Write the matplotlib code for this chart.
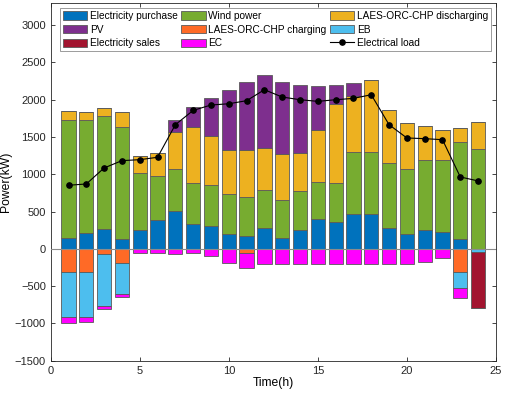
import numpy as np
import matplotlib
matplotlib.use("Agg")
import matplotlib.pyplot as plt
from matplotlib.patches import Patch
from matplotlib.lines import Line2D

plt.rcParams['font.family'] = ['Liberation Sans', 'DejaVu Sans']

hours = np.arange(1, 25)
purchase = [152, 210, 272, 134, 259, 393, 504, 339, 308, 205, 179, 277,
            152, 259, 397, 366, 473, 469, 277, 205, 259, 232, 138, 0]
wind_top = [1732, 1723, 1777, 1634, 1022, 978, 1067, 888, 853, 737, 701, 795,
            661, 772, 902, 888, 1295, 1304, 1147, 1076, 1188, 1188, 1433, 1344]
dis_top = [1848, 1839, 1893, 1830, 1250, 1286, 1567, 1634, 1509, 1326, 1326, 1353,
           1272, 1286, 1598, 1938, 2045, 2268, 1862, 1688, 1647, 1594, 1621, 1696]
pv_top = [1848, 1839, 1893, 1830, 1250, 1286, 1728, 1902, 2018, 2125, 2241, 2330,
          2232, 2201, 2178, 2201, 2219, 2268, 1862, 1688, 1647, 1594, 1621, 1696]
charging = [304, 304, 71, 188, 0, 0, 0, 0, 0, 0, 58, 0,
            0, 0, 0, 0, 0, 0, 0, 0, 0, 0, 304, 0]
eb = [616, 616, 701, 415, 0, 0, 0, 0, 0, 0, 0, 0,
      0, 0, 0, 0, 0, 0, 0, 0, 0, 0, 227, 45]
sales = [0]*23 + [750]
ec = [71, 58, 41, 49, 58, 62, 67, 54, 94, 188, 201, 201,
      201, 201, 201, 201, 201, 201, 201, 201, 179, 129, 134, 0]
load = [853, 870, 1085, 1183, 1196, 1228, 1665, 1857, 1929, 1946, 1987, 2134,
        2036, 2000, 1978, 2000, 2018, 2067, 1665, 1487, 1478, 1464, 964, 911]

purchase = np.array(purchase, float)
wind = np.array(wind_top, float) - purchase
dis = np.array(dis_top, float) - np.array(wind_top, float)
pv = np.array(pv_top, float) - np.array(dis_top, float)

pos_series = [("Electricity purchase", purchase, "#0072BD"),
              ("Wind power", wind, "#77AC30"),
              ("LAES-ORC-CHP discharging", dis, "#EDB120"),
              ("PV", pv, "#7E2F8E")]
neg_series = [("LAES-ORC-CHP charging", np.array(charging, float), "#FF6A26"),
              ("EB", np.array(eb, float), "#4DBEEE"),
              ("Electricity sales", np.array(sales, float), "#A2142F"),
              ("EC", np.array(ec, float), "#FF00FF")]

fig = plt.figure(figsize=(5.05, 3.99), dpi=100)
ax = fig.add_axes([0.1004, 0.096, 0.8816, 0.897])

ec_col = "#5a5a5a"
handles = {}
bottom = np.zeros(24)
for name, vals, col in pos_series:
    ax.bar(hours, vals, 0.8, bottom=bottom, color=col, edgecolor=ec_col, linewidth=0.6)
    bottom = bottom + vals
    handles[name] = Patch(facecolor=col, edgecolor=ec_col, linewidth=0.6)
bottom = np.zeros(24)
for name, vals, col in neg_series:
    ax.bar(hours, -vals, 0.8, bottom=bottom, color=col, edgecolor=ec_col, linewidth=0.6)
    bottom = bottom - vals
    handles[name] = Patch(facecolor=col, edgecolor=ec_col, linewidth=0.6)

ax.axhline(0, color="#8c8c8c", linewidth=0.8, zorder=3)
ax.plot(hours, load, color="black", linewidth=0.8, marker="o", markersize=3.8, zorder=4)
handles["Electrical load"] = Line2D([], [], color="black", linewidth=0.8, marker="o", markersize=3.8)

ax.set_xlim(0, 25)
ax.set_ylim(-1500, 3300)
ax.set_xticks([0, 5, 10, 15, 20, 25])
ax.set_yticks(np.arange(-1500, 3001, 500))
ax.tick_params(direction="in", labelsize=8, length=3, width=0.6, colors="#262626",
               top=True, right=True)
for sp in ax.spines.values():
    sp.set_color("#262626")
    sp.set_linewidth(0.6)
ax.set_xlabel("Time(h)", fontsize=8.7, labelpad=1)
ax.set_ylabel("Power(kW)", fontsize=8.7, labelpad=2)

order = ["Electricity purchase", "PV", "Electricity sales",
         "Wind power", "LAES-ORC-CHP charging", "EC",
         "LAES-ORC-CHP discharging", "EB", "Electrical load"]
axh = 358.0
leg = ax.legend([handles[k] for k in order], order, ncol=3, fontsize=7.3,
                loc="upper left", mode="expand",
                bbox_to_anchor=(0.021, 0.985 - 41 / axh, 0.968, 41 / axh),
                borderaxespad=0, handlelength=2.4, handleheight=0.9,
                handletextpad=0.25, columnspacing=0.5, labelspacing=0.35,
                borderpad=0.3, fancybox=False, framealpha=1, edgecolor="#8c8c8c")
leg.get_frame().set_linewidth(0.6)

fig.savefig("out.png", dpi=100)
